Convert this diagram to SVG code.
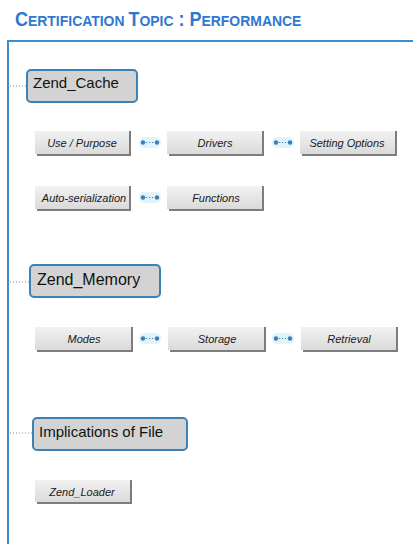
<svg xmlns="http://www.w3.org/2000/svg" width="413" height="544" viewBox="0 0 413 544">
  <style>
    .title { font-family: "Liberation Sans", Arial, sans-serif; font-weight: bold; fill: #2f78d0; }
    .frame { fill: none; stroke: #3d8dd0; stroke-width: 2; }
    .head rect { fill: #d3d3d3; stroke: #3b82b6; stroke-width: 2; }
    .head text { font-family: "Liberation Sans", Arial, sans-serif; font-size: 15px; fill: #111; }
    .btn rect { fill: url(#btnFill); }
    .btn path { fill: none; stroke: #7d7d7d; stroke-width: 2; }
    .btn text { font-family: "Liberation Sans", Arial, sans-serif; font-size: 11px; font-style: italic; fill: #1a1a1a; text-anchor: middle; }
    .lead { stroke: #6f8ea8; stroke-width: 1; stroke-dasharray: 1 2; }
    .link line { stroke: #3a7fb5; stroke-width: 1.2; stroke-dasharray: 1.2 1.8; }
    .link circle { fill: #3a7fb5; }
    .halo { fill: #e3f3fb; }
  </style>
  <defs>
    <linearGradient id="btnFill" x1="0" y1="0" x2="0" y2="1">
      <stop offset="0" stop-color="#f2f2f2"/>
      <stop offset="1" stop-color="#dadada"/>
    </linearGradient>
  </defs>

  <rect width="413" height="544" fill="#ffffff"/>

  <!-- heading, small caps set by hand and narrowed -->
  <text class="title" transform="translate(15 25.5) scale(0.9 1)" x="0" y="0"><tspan font-size="20">C</tspan><tspan font-size="15.5">ERTIFICATION </tspan><tspan font-size="20">T</tspan><tspan font-size="15.5">OPIC</tspan><tspan font-size="20"> : P</tspan><tspan font-size="15.5">ERFORMANCE</tspan></text>

  <!-- frame -->
  <path class="frame" d="M8 544 V41 H413"/>

  <!-- connectors -->
  <g id="connectors">
    <line class="lead" x1="10" y1="86" x2="27" y2="86"/>
    <line class="lead" x1="10" y1="282" x2="29" y2="282"/>
    <line class="lead" x1="10" y1="433" x2="32" y2="433"/>
    <g class="link">
      <rect class="halo" x="139" y="137" width="22" height="11" rx="5"/>
      <line x1="143" y1="142.5" x2="157" y2="142.5"/>
      <circle cx="143" cy="142.5" r="2.2"/><circle cx="157" cy="142.5" r="2.2"/>
    </g>
    <g class="link">
      <rect class="halo" x="272" y="137" width="22" height="11" rx="5"/>
      <line x1="276" y1="142.5" x2="290" y2="142.5"/>
      <circle cx="276" cy="142.5" r="2.2"/><circle cx="290" cy="142.5" r="2.2"/>
    </g>
    <g class="link">
      <rect class="halo" x="139" y="192" width="22" height="11" rx="5"/>
      <line x1="143" y1="197.5" x2="157" y2="197.5"/>
      <circle cx="143" cy="197.5" r="2.2"/><circle cx="157" cy="197.5" r="2.2"/>
    </g>
    <g class="link">
      <rect class="halo" x="139" y="333" width="22" height="11" rx="5"/>
      <line x1="143" y1="338.5" x2="157" y2="338.5"/>
      <circle cx="143" cy="338.5" r="2.2"/><circle cx="157" cy="338.5" r="2.2"/>
    </g>
    <g class="link">
      <rect class="halo" x="272" y="333" width="22" height="11" rx="5"/>
      <line x1="276" y1="338.5" x2="290" y2="338.5"/>
      <circle cx="276" cy="338.5" r="2.2"/><circle cx="290" cy="338.5" r="2.2"/>
    </g>
  </g>

  <!-- section headers -->
  <g id="zend-cache" class="head">
    <rect x="27" y="70" width="110" height="32" rx="4"/>
    <text x="33" y="88">Zend_Cache</text>
  </g>
  <g id="zend-memory" class="head">
    <rect x="30" y="265" width="130" height="32" rx="4"/>
    <text x="37" y="285" style="font-size:16px">Zend_Memory</text>
  </g>
  <g id="implications" class="head">
    <rect x="33" y="418" width="154" height="32" rx="4"/>
    <text x="39" y="437">Implications of File</text>
  </g>

  <!-- topic buttons -->
  <g id="use-purpose" class="btn">
    <rect x="35" y="131" width="95" height="23"/>
    <path d="M130 131 V155 M37 155 H131"/>
    <text x="82" y="147">Use / Purpose</text>
  </g>
  <g id="drivers" class="btn">
    <rect x="167" y="131" width="96" height="23"/>
    <path d="M263 131 V155 M169 155 H264"/>
    <text x="215" y="147">Drivers</text>
  </g>
  <g id="setting-options" class="btn">
    <rect x="300" y="131" width="96" height="23"/>
    <path d="M396 131 V155 M302 155 H397"/>
    <text x="347" y="147">Setting Options</text>
  </g>
  <g id="auto-serialization" class="btn">
    <rect x="35" y="186" width="95" height="23"/>
    <path d="M130 186 V210 M37 210 H131"/>
    <text x="84" y="202">Auto-serialization</text>
  </g>
  <g id="functions" class="btn">
    <rect x="167" y="186" width="96" height="23"/>
    <path d="M263 186 V210 M169 210 H264"/>
    <text x="216" y="202">Functions</text>
  </g>
  <g id="modes" class="btn">
    <rect x="35" y="327" width="97" height="23"/>
    <path d="M132 327 V351 M37 351 H133"/>
    <text x="84" y="343">Modes</text>
  </g>
  <g id="storage" class="btn">
    <rect x="168" y="327" width="97" height="23"/>
    <path d="M265 327 V351 M170 351 H266"/>
    <text x="217" y="343">Storage</text>
  </g>
  <g id="retrieval" class="btn">
    <rect x="301" y="327" width="96" height="23"/>
    <path d="M397 327 V351 M303 351 H398"/>
    <text x="349" y="343">Retrieval</text>
  </g>
  <g id="zend-loader" class="btn">
    <rect x="35" y="480" width="96" height="22"/>
    <path d="M131 480 V503 M37 503 H132"/>
    <text x="82" y="496">Zend_Loader</text>
  </g>
</svg>
